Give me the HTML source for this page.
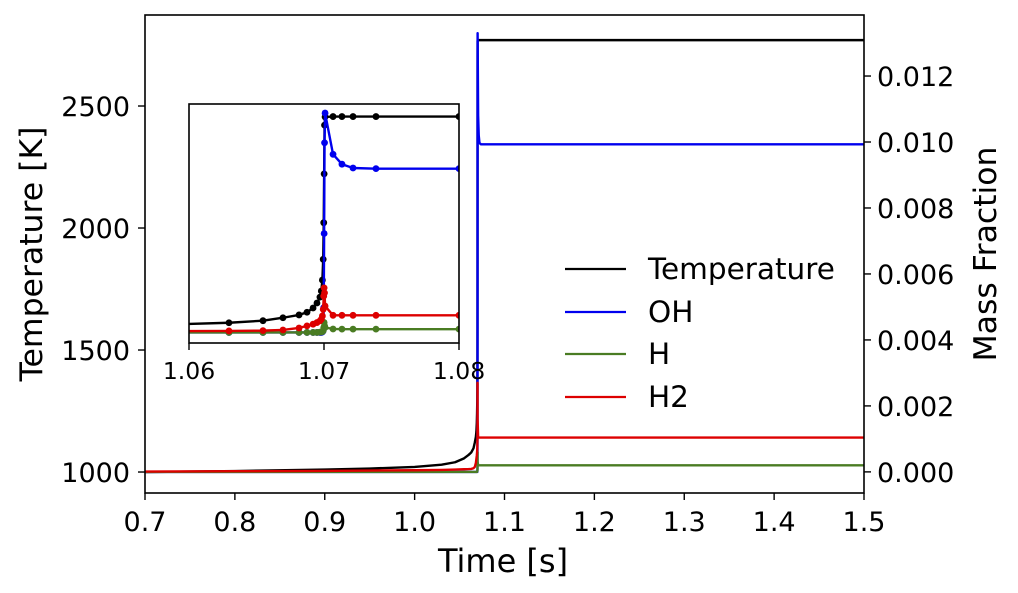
<!DOCTYPE html>
<html><head><meta charset="utf-8"><style>
html,body{margin:0;padding:0;background:#fff;}
svg{display:block;font-family:"DejaVu Sans","Liberation Sans",sans-serif;}
</style></head><body>
<svg id="chart" width="1018" height="593" viewBox="0 0 1018 593">
<defs>
<clipPath id="mainclip"><rect x="145" y="15" width="719" height="478"/></clipPath>
<clipPath id="insetclip"><rect x="189" y="104" width="270" height="239"/></clipPath>
</defs>
<rect x="0" y="0" width="1018" height="593" fill="#fff"/>
<g id="main-series" clip-path="url(#mainclip)"></g>
<rect x="145" y="15" width="719" height="478" fill="none" stroke="#000" stroke-width="1.6"/>
<g id="axes"></g>
<rect x="189" y="104" width="270" height="239" fill="#fff" stroke="none"/>
<g id="inset-series" clip-path="url(#insetclip)"></g>
<rect x="189" y="104" width="270" height="239" fill="none" stroke="#000" stroke-width="1.6"/>
<g id="inset-axes"></g>
<text x="32" y="254" font-size="31.5" text-anchor="middle" transform="rotate(-90 32 254)" dominant-baseline="central">Temperature [K]</text>
<text x="986" y="254" font-size="31.5" text-anchor="middle" transform="rotate(-90 986 254)" dominant-baseline="central">Mass Fraction</text>
<text x="503" y="572" font-size="32" text-anchor="middle">Time [s]</text>
<g>
<g><line x1="565" y1="269" x2="626" y2="269" stroke="#000" stroke-width="2.2"/><text x="648" y="279" font-size="29.5">Temperature</text></g>
<g><line x1="565" y1="312" x2="626" y2="312" stroke="#0000ee" stroke-width="2.2"/><text x="648" y="322" font-size="29.5">OH</text></g>
<g><line x1="565" y1="354" x2="626" y2="354" stroke="#4a7c23" stroke-width="2.2"/><text x="648" y="364" font-size="29.5">H</text></g>
<g><line x1="565" y1="397" x2="626" y2="397" stroke="#dd0000" stroke-width="2.2"/><text x="648" y="407" font-size="29.5">H2</text></g>
</g>
</svg>
<script>
const times = [0.7,0.8,0.9,0.95,1.0,1.03,1.045,1.055,1.06,1.06296,1.06548,1.06696,1.06815,1.06874,1.06919,1.06948,1.0697,1.0698,1.06988,1.06994,1.06998,1.07001,1.07004,1.07008,1.07067,1.07133,1.07215,1.07385,1.08,1.5];
const temperature = [1000,1004,1010,1014,1021,1030,1040,1056,1070,1080,1097,1121,1144,1166,1201,1242,1290,1340,1430,1600,1900,2300,2700,2767,2770,2770,2770,2770,2770,2770];
const ohFrac = [0,0,0,0,0,0,0,0,0,0,0,0,0,0,0,0,0,0,0.00003,0.0001,0.0015,0.006,0.0115,0.0133,0.0108,0.0102,0.00997,0.00993,0.00993,0.00993];
const hFrac = [0,0,0,0,0,0,0,0,0,0,0,0,0,0,0,0,0.00002,0.00003,0.00005,0.0001,0.0003,0.0006,0.0004,0.0003,0.00021,0.0002,0.0002,0.0002,0.0002,0.0002];
const h2Frac = [0.00001,0.00002,0.00003,0.00004,0.00005,0.00006,0.00007,0.00008,0.000085,0.00009,0.00011,0.00015,0.00027,0.0004,0.0005,0.0006,0.0007,0.0008,0.001,0.0014,0.0022,0.0027,0.0024,0.0016,0.00104,0.00104,0.00104,0.00104,0.00104,0.00104];
const xTicks = [0.7,0.8,0.9,1.0,1.1,1.2,1.3,1.4,1.5];
const xTickLabels = ["0.7","0.8","0.9","1.0","1.1","1.2","1.3","1.4","1.5"];
const tTicks = [1000,1500,2000,2500];
const mTicks = [0,0.002,0.004,0.006,0.008,0.010,0.012];
const mTickLabels = ["0.000","0.002","0.004","0.006","0.008","0.010","0.012"];
const insetXTicks = [1.06,1.07,1.08];
const insetXLabels = ["1.06","1.07","1.08"];

const NS="http://www.w3.org/2000/svg";
const T0=914,T1=2873,M0=-0.00064,M1=0.01385;
const mx=t=>145+(t-0.7)/0.8*719;
const myT=v=>493-(v-T0)/(T1-T0)*478;
const myM=v=>493-(v-M0)/(M1-M0)*478;
const ix=t=>189+(t-1.06)/0.02*270;
const iyT=v=>343-(v-T0)/(T1-T0)*239;
const iyM=v=>343-(v-M0)/(M1-M0)*239;
function mk(tag,attrs,parent){const e=document.createElementNS(NS,tag);for(const k in attrs)e.setAttribute(k,attrs[k]);parent.appendChild(e);return e;}
const series=[
 {name:"temperature",vals:temperature,col:"#000",t:true},
 {name:"oh",vals:ohFrac,col:"#0000ee",t:false},
 {name:"h",vals:hFrac,col:"#4a7c23",t:false},
 {name:"h2",vals:h2Frac,col:"#dd0000",t:false}];
const mg=document.getElementById('main-series');
const ig=document.getElementById('inset-series');
series.forEach(s=>{
 const fy=s.t?myT:myM, gy=s.t?iyT:iyM;
 const p=mk('polyline',{points:times.map((t,i)=>mx(t)+','+fy(s.vals[i])).join(' '),fill:'none',stroke:s.col,'stroke-width':2.4,'stroke-linejoin':'round'},mg);
 
 
 const q=mk('polyline',{points:times.map((t,i)=>ix(t)+','+gy(s.vals[i])).join(' '),fill:'none',stroke:s.col,'stroke-width':2.4,'stroke-linejoin':'round'},ig);
 
 
 times.forEach((t,i)=>{
  if(t<1.0605||t>1.081)return;
  const c=mk('circle',{cx:ix(t),cy:gy(s.vals[i]),r:3.4,fill:s.col},ig);
  
  
 });
});
const ax=document.getElementById('axes');
xTicks.forEach((v,i)=>{
 const x=mx(v);
 const l=mk('line',{x1:x,y1:493,x2:x,y2:500,stroke:'#000','stroke-width':1.4},ax);
 
 
 const tx=mk('text',{x:x,y:531,'font-size':27,'text-anchor':'middle'},ax);
 tx.textContent=xTickLabels[i];
 
 
});
tTicks.forEach(v=>{
 const y=myT(v);
 const l=mk('line',{x1:138,y1:y,x2:145,y2:y,stroke:'#000','stroke-width':1.4},ax);
 
 
 const tx=mk('text',{x:130,y:y+10,'font-size':27,'text-anchor':'end'},ax);
 tx.textContent=String(v);
 
 
});
mTicks.forEach((v,i)=>{
 const y=myM(v);
 const l=mk('line',{x1:864,y1:y,x2:871,y2:y,stroke:'#000','stroke-width':1.4},ax);
 
 
 const tx=mk('text',{x:877,y:y+10,'font-size':27,'text-anchor':'start'},ax);
 tx.textContent=mTickLabels[i];
 
 
});
const ia=document.getElementById('inset-axes');
insetXTicks.forEach((v,i)=>{
 const x=ix(v);
 const l=mk('line',{x1:x,y1:343,x2:x,y2:350,stroke:'#000','stroke-width':1.4},ia);
 
 
 const tx=mk('text',{x:x,y:379,'font-size':23.5,'text-anchor':'middle'},ia);
 tx.textContent=insetXLabels[i];
 
 
});
</script>
</body></html>
